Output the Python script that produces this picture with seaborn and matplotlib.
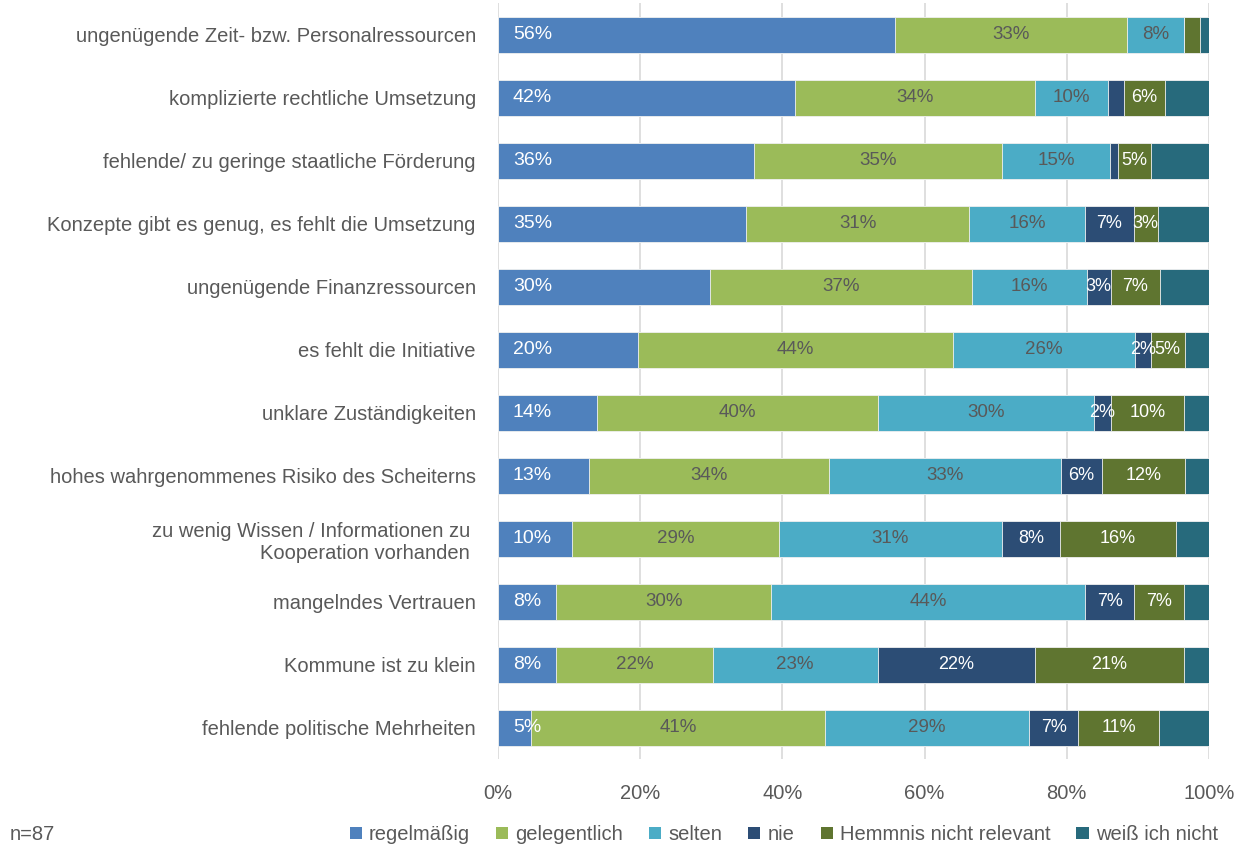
import matplotlib.pyplot as plt
import seaborn as sns
import pandas as pd
import numpy as np
from matplotlib.patches import Patch

# Hemmnisse und Anteile (in %)
categories = [
    'ungenügende Zeit- bzw. Personalressourcen',
    'komplizierte rechtliche Umsetzung',
    'fehlende/ zu geringe staatliche Förderung',
    'Konzepte gibt es genug, es fehlt die Umsetzung',
    'ungenügende Finanzressourcen',
    'es fehlt die Initiative',
    'unklare Zuständigkeiten',
    'hohes wahrgenommenes Risiko des Scheiterns',
    'zu wenig Wissen / Informationen zu \nKooperation vorhanden ',
    'mangelndes Vertrauen',
    'Kommune ist zu klein',
    'fehlende politische Mehrheiten',
]
regelmaessig = [55.8, 41.8, 36.0, 34.9, 29.8, 19.7, 13.9, 12.8, 10.4, 8.2, 8.2, 4.6]
gelegentlich = [32.6, 33.7, 34.9, 31.4, 36.9, 44.3, 39.6, 33.8, 29.1, 30.2, 22.0, 41.4]
selten = [8.1, 10.3, 15.2, 16.2, 16.1, 25.6, 30.3, 32.6, 31.4, 44.2, 23.2, 28.7]
nie = [0.0, 2.2, 1.1, 6.9, 3.4, 2.2, 2.4, 5.7, 8.1, 6.9, 22.1, 6.9]
hemmnis = [2.3, 5.8, 4.6, 3.4, 6.9, 4.8, 10.3, 11.7, 16.3, 7.0, 21.0, 11.4]
weiss = [1.2, 6.2, 8.2, 7.2, 6.9, 3.4, 3.5, 3.4, 4.7, 3.5, 3.5, 7.0]

series_names = ['regelmäßig', 'gelegentlich', 'selten', 'nie', 'Hemmnis nicht relevant', 'weiß ich nicht']
series_data = [regelmaessig, gelegentlich, selten, nie, hemmnis, weiss]
colors = ['#4F81BD', '#9BBB59', '#4BACC6', '#2C4D75', '#5F7530', '#276A7C']
label_colors = ['white', '#595959', '#595959', 'white', 'white', None]
# welche Segmente beschriftet sind
show = [
    [1] * 12,
    [1] * 12,
    [1] * 12,
    [0, 0, 0, 1, 1, 1, 1, 1, 1, 1, 1, 1],
    [0, 1, 1, 1, 1, 1, 1, 1, 1, 1, 1, 1],
    [0] * 12,
]

plt.rcParams['font.family'] = ['Liberation Sans', 'DejaVu Sans']
text_grey = '#595959'

fig = plt.figure(figsize=(12.4, 8.5), dpi=100)
ax = fig.add_axes([0.4016, 0.1065, 0.5734, 0.8894])

# kumulierte Werte, von hinten nach vorne zeichnen
cum = np.cumsum(np.array(series_data), axis=0)
for i in reversed(range(len(series_names))):
    df = pd.DataFrame({'Hemmnis': categories, 'Wert': cum[i]})
    sns.barplot(data=df, x='Wert', y='Hemmnis', order=categories, orient='h',
                color=colors[i], width=0.57, edgecolor='#f2f2f2', linewidth=0.6,
                saturation=1, ax=ax, zorder=3)

for i, vals in enumerate(series_data):
    if label_colors[i] is None:
        continue
    for j, v in enumerate(vals):
        if not show[i][j]:
            continue
        start = cum[i][j] - v
        if i == 0:
            # innen am Anfang
            ax.text(start + 2.1, j, f'{round(v)}%', ha='left', va='center',
                    color=label_colors[i], fontsize=14, zorder=4)
        else:
            fs = 13 if i >= 3 else 13.5
            ax.text(start + v / 2, j, f'{round(v)}%', ha='center', va='center',
                    color=label_colors[i], fontsize=fs, zorder=4)

ax.set_xlim(0, 100)
ax.set_ylim(len(categories) - 0.5, -0.5)
ax.set_xticks(range(0, 101, 20))
ax.set_xticklabels([f'{t}%' for t in range(0, 101, 20)])
ax.xaxis.grid(True, color='#d9d9d9', linewidth=1.2, zorder=0)
ax.set_axisbelow(True)
ax.set_xlabel('')
ax.set_ylabel('')
for s in ax.spines.values():
    s.set_visible(False)
ax.tick_params(axis='both', length=0, labelsize=14.5, colors=text_grey)
ax.tick_params(axis='x', pad=18)
ax.tick_params(axis='y', pad=16)

handles = [Patch(facecolor=c, edgecolor='none') for c in colors]
fig.legend(handles, series_names, loc='center', bbox_to_anchor=(0.632, 0.018),
           ncol=6, frameon=False, fontsize=14.5, handlelength=0.6, handleheight=0.6,
           handletextpad=0.35, columnspacing=1.3, labelcolor=text_grey)
fig.text(0.008, 0.018, 'n=87', fontsize=14.5, color=text_grey, va='center')

fig.savefig('out.png', dpi=100, facecolor='white')
